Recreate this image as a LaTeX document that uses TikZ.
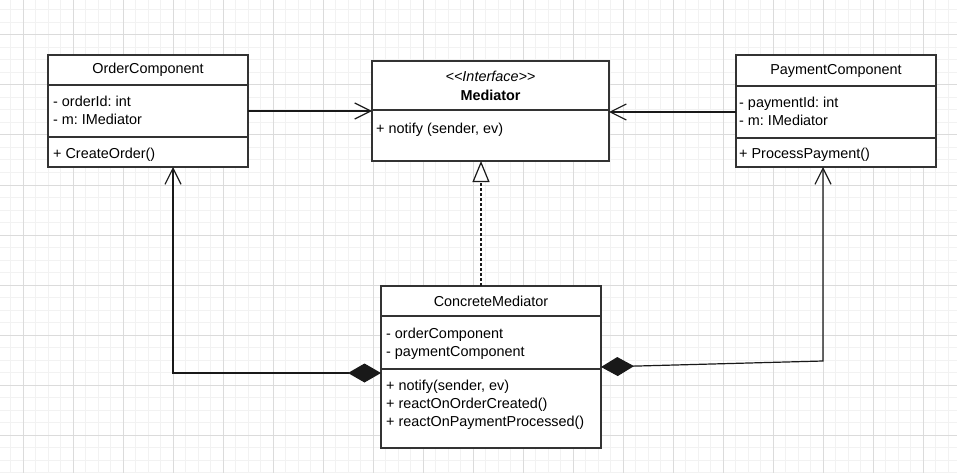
\documentclass[tikz,border=0pt]{standalone}
\usepackage{fontspec}
\setmainfont{Liberation Sans}
\frenchspacing
\usetikzlibrary{positioning,arrows.meta}

\begin{document}
\begin{tikzpicture}[
    x=1pt, y=-1pt,
    gridminor/.style={draw=black!5, line width=1pt},
    gridmajor/.style={draw=black!14, line width=1pt},
    compartment/.style={
        draw=black!80,
        line width=1.1pt,
        fill=white,
        outer sep=0pt,
        inner sep=0pt
    },
    classname/.style={compartment, align=center},
    members/.style={align=left, inner sep=0pt},
    assoc/.style={-{Straight Barb[length=16pt,width=16pt]}, line width=1.2pt, draw=black!90},
    compose/.style={{Diamond[length=33pt,width=19pt]}-{Straight Barb[length=16pt,width=16pt]}, line width=1.2pt, draw=black!90},
    realize/.style={-{Triangle[open,length=21pt,width=17pt,fill=white]}, line width=1.2pt, draw=black!90, dash pattern=on 3pt off 2pt},
    node distance=0pt,
    font=\fontsize{14.4}{18}\selectfont
]

% Background grid
\useasboundingbox (0,0) rectangle (957,473);
\fill[white] (0,0) rectangle (957,473);
\foreach \gx in {10.5,23,...,957} \draw[gridminor] (\gx,0) -- (\gx,473);
\foreach \gy in {10,22.5,...,473} \draw[gridminor] (0,\gy) -- (957,\gy);
\foreach \gx in {23,73,...,957} \draw[gridmajor] (\gx,0) -- (\gx,473);
\foreach \gy in {35,85,...,473} \draw[gridmajor] (0,\gy) -- (957,\gy);

% OrderComponent
\node[classname, anchor=north west, minimum width=200pt, minimum height=30pt] (ohead) at (48,55) {OrderComponent};
\node[compartment, below=of ohead, minimum width=200pt, minimum height=52pt] (oattr) {};
\node[compartment, below=of oattr, minimum width=200pt, minimum height=30pt] (ometh) {};
\node[members, below right=11pt and 5pt of oattr.north west] (oattrtxt) {- orderId: int\\- m: IMediator};
\node[members, below right=11pt and 5pt of ometh.north west] (omethtxt) {+ CreateOrder()};

% Mediator (interface)
\node[classname, anchor=north west, minimum width=237pt, minimum height=49pt] (mhead) at (372,61) {\textit{\textless\kern0pt\textless Interface\textgreater\kern0pt\textgreater}\\[1pt]\textbf{Mediator}};
\node[compartment, below=of mhead, minimum width=237pt, minimum height=51pt] (mmeth) {};
\node[members, below right=12.5pt and 4pt of mmeth.north west] (mmethtxt) {+ notify (sender, ev)};

% PaymentComponent
\node[classname, anchor=north west, minimum width=200pt, minimum height=31pt] (phead) at (736,55) {PaymentComponent};
\node[compartment, below=of phead, minimum width=200pt, minimum height=52pt] (pattr) {};
\node[compartment, below=of pattr, minimum width=200pt, minimum height=29pt] (pmeth) {};
\node[members, below right=11pt and 3pt of pattr.north west] (pattrtxt) {- paymentId: int\\- m: IMediator};
\node[members, below right=10pt and 3pt of pmeth.north west] (pmethtxt) {+ ProcessPayment()};

% ConcreteMediator
\node[classname, anchor=north west, minimum width=220pt, minimum height=30pt] (chead) at (381,286) {ConcreteMediator};
\node[compartment, below=of chead, minimum width=220pt, minimum height=53pt] (cattr) {};
\node[compartment, below=of cattr, minimum width=220pt, minimum height=79pt] (cmeth) {};
\node[members, below right=12pt and 5pt of cattr.north west] (cattrtxt) {- orderComponent\\- paymentComponent};
\node[members, below right=11pt and 5pt of cmeth.north west] (cmethtxt) {+ notify(sender, ev)\\+ reactOnOrderCreated()\\+ reactOnPaymentProcessed()};

% Bends of the compositions
\coordinate (lbend) at (173,373);
\coordinate (rbend) at (823,361);
\coordinate (real) at ([xshift=-10pt]chead.north);

% Edges
\draw[assoc] (oattr.east) -- (oattr.east -| mhead.west);
\draw[assoc] (pattr.west) -- (pattr.west -| mhead.east);
\draw[realize] (real) -- (real |- mmeth.south);
\draw[compose] (lbend -| cmeth.west) -- (lbend) -- (lbend |- ometh.south);
\draw[compose] ([yshift=2pt]cmeth.north east) -- (rbend) -- (rbend |- pmeth.south);

\end{tikzpicture}
\end{document}
